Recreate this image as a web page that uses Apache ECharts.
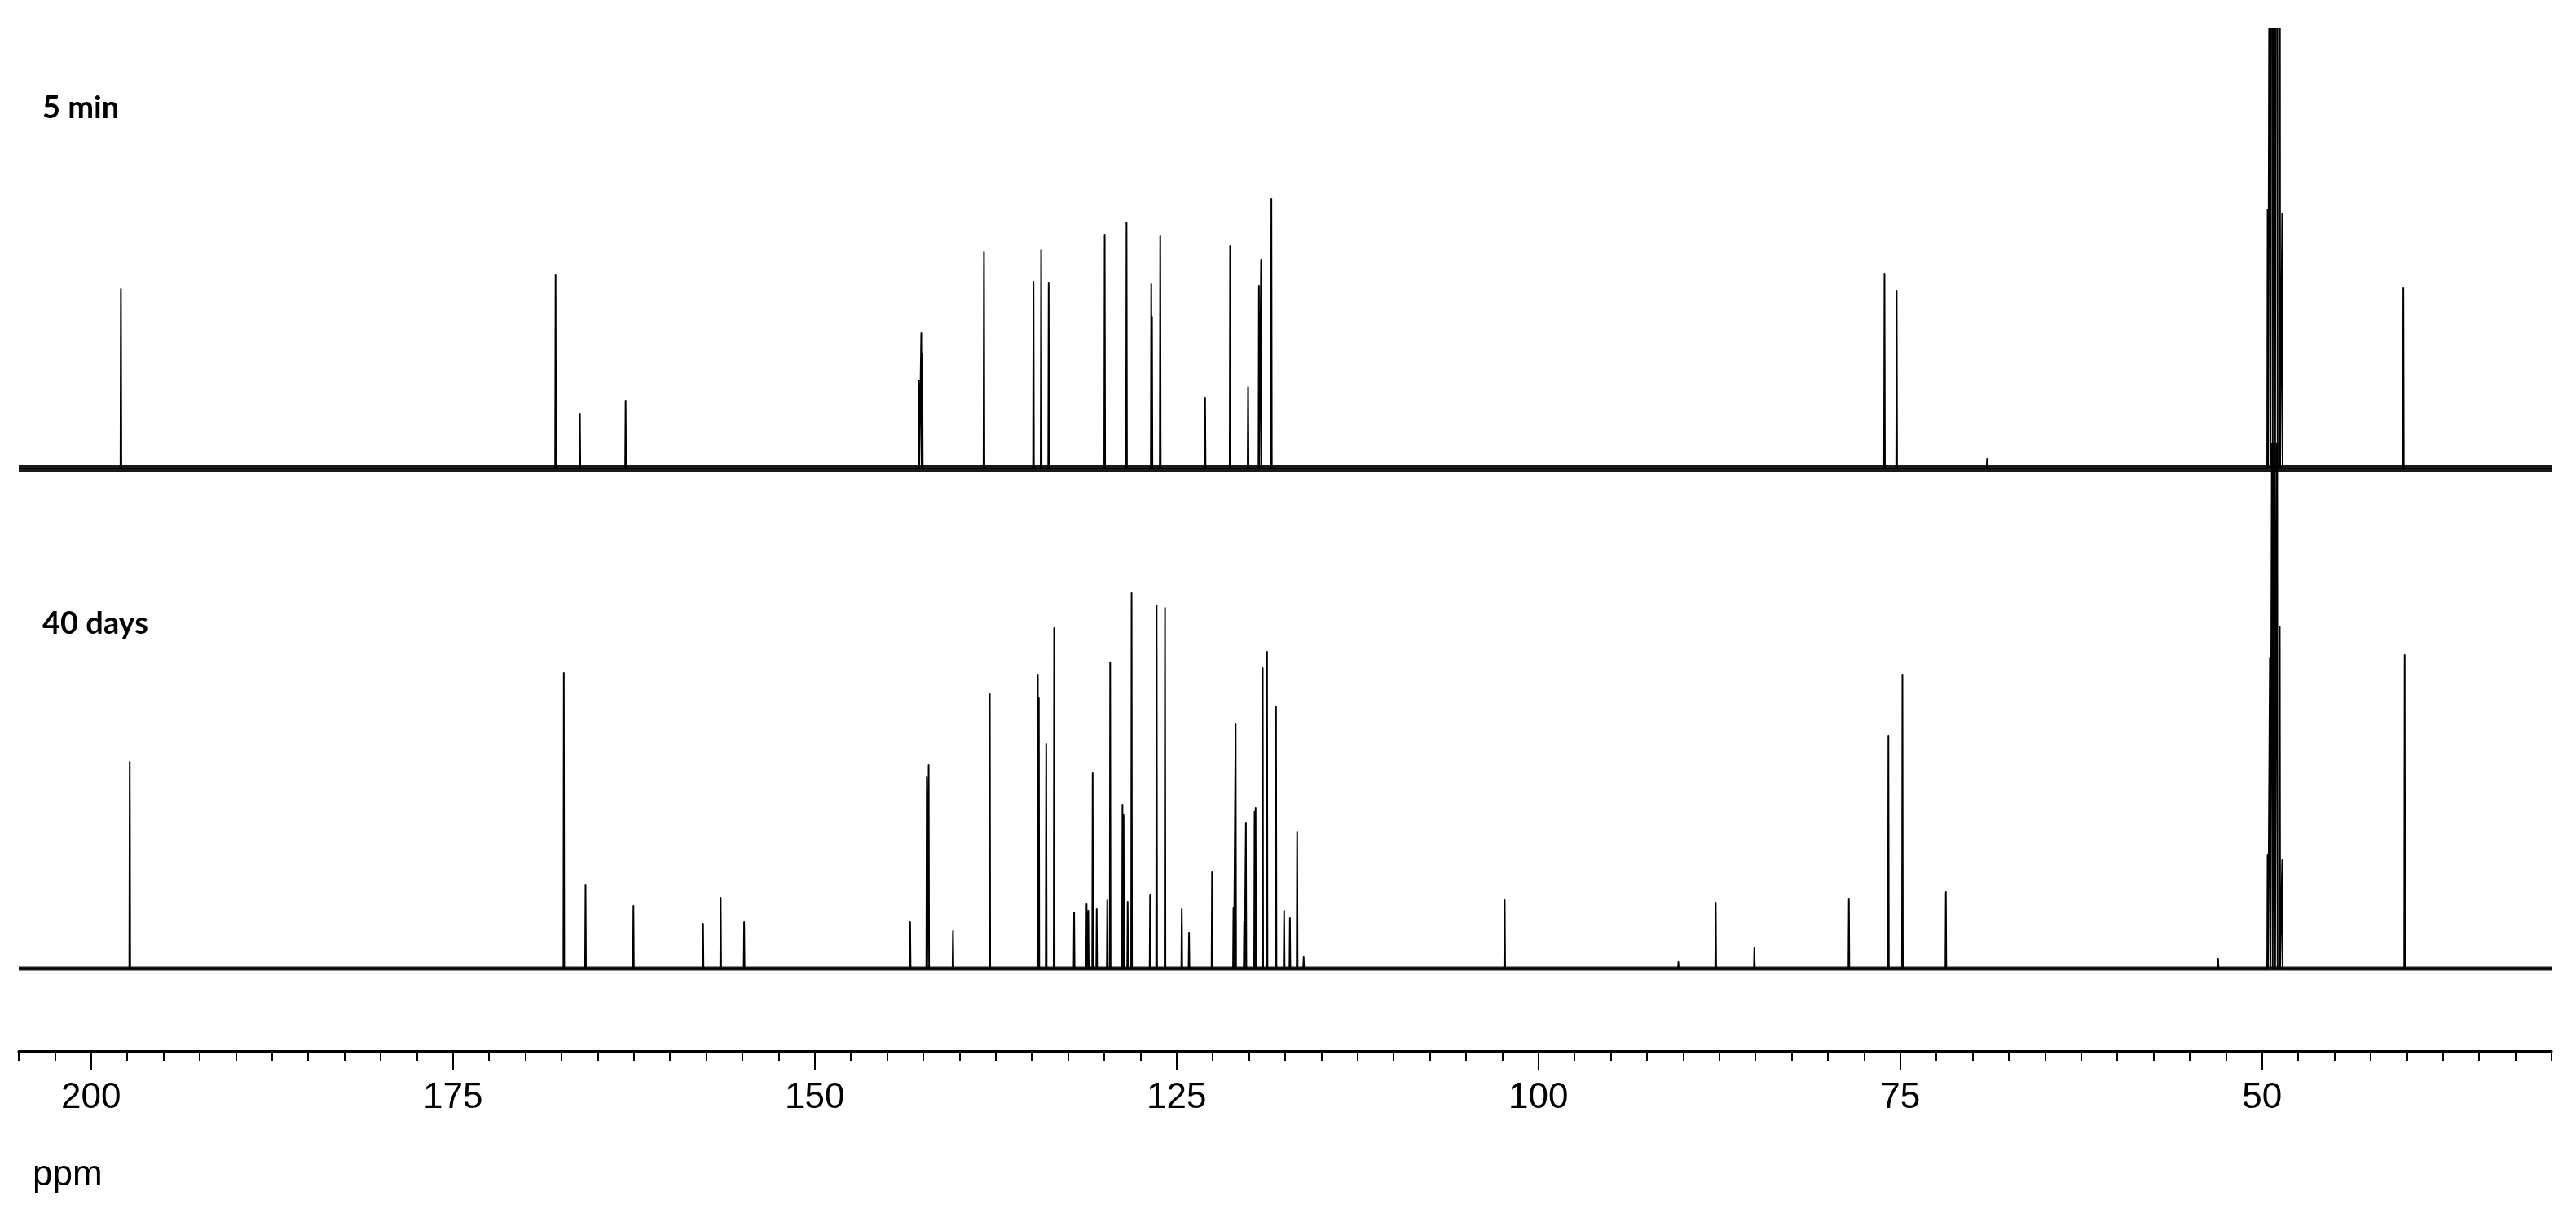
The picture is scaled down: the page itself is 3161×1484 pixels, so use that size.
<!DOCTYPE html>
<html>
<head>
<meta charset="utf-8">
<script src="https://cdn.jsdelivr.net/npm/echarts@6/dist/echarts.min.js"></script>
<style>
html,body{margin:0;padding:0;background:#fff;}
#chart{width:3161px;height:1484px;}
</style>
</head>
<body>
<div id="chart"></div>
<script>
// ---- data (ppm, peak height in arbitrary units) ----
const spectrumLabels = ['5 min', '40 days'];
const axisTitle = 'ppm';
const majorTickValues = [200, 175, 150, 125, 100, 75, 50];
const axisMinPpm = 30;
const axisMaxPpm = 205;
const minorTickStep = 2.5;

const topPeakPpm = [197.94, 167.91, 166.23, 163.07, 142.81, 142.64, 142.57, 138.31,
  134.89, 134.36, 133.84, 129.97, 128.46, 126.75, 126.70, 126.13, 123.03, 121.30,
  120.06, 119.31, 119.16, 118.45, 76.09, 75.25, 69.0, 40.24];
const topPeakHeight = [220, 238, 67, 83, 108, 166, 141, 266,
  229, 268, 228, 287, 302, 227, 186, 285, 87, 273,
  100, 224, 256, 331, 239, 218, 12, 222];

const bottomPeakPpm = [197.33, 167.34, 165.84, 162.53, 157.72, 156.50, 154.88,
  143.41, 142.26, 142.13, 140.45, 137.91, 134.59, 134.52, 134.01, 133.46, 132.08,
  131.22, 131.10, 130.80, 130.52, 129.79, 129.59, 128.74, 128.66, 128.38, 128.11,
  126.83, 126.38, 125.80, 124.64, 124.14, 122.55, 121.07, 120.92, 120.33, 120.21,
  119.61, 119.54, 119.05, 118.75, 118.13, 117.57, 117.17, 116.67, 116.22,
  102.33, 90.33, 87.75, 85.08, 78.55, 75.82, 74.85, 71.85, 53.04, 40.15];
const bottomPeakHeight = [254, 363, 103, 77, 55, 87, 57,
  57, 235, 250, 46, 337, 361, 332, 276, 418, 69,
  79, 71, 240, 73, 84, 376, 201, 189, 82, 461,
  91, 446, 443, 73, 44, 119, 75, 300, 58, 179,
  193, 197, 369, 389, 322, 71, 62, 168, 14,
  84, 8, 81, 25, 86, 286, 361, 94, 12, 385];

// solvent (CD3OD) septet lines
const solventPpm = [49.62, 49.46, 49.30, 49.13, 48.96, 48.78, 48.61];
const topSolventHeight = [318, 950, 1900, 2200, 1900, 950, 313];
const bottomSolventHeight = [140, 381, 800, 930, 800, 420, 133];

// baseline noise band thickness for each trace
const noiseBandWidth = [8, 5];

// ---- build line data (sticks) from the arrays ----
function buildSpectrum(ppms, heights, sPpm, sHeights) {
  const peaks = ppms.map((p, i) => [p, heights[i]])
    .concat(sPpm.map((p, i) => [p, sHeights[i]]));
  peaks.sort((a, b) => b[0] - a[0]);
  const half = 0.03;
  const pts = [[axisMaxPpm, 0]];
  peaks.forEach(function (pk) {
    pts.push([pk[0] + half, 0], [pk[0], pk[1]], [pk[0] - half, 0]);
  });
  pts.push([axisMinPpm, 0]);
  return pts;
}

const topData = buildSpectrum(topPeakPpm, topPeakHeight, solventPpm, topSolventHeight);
const bottomData = buildSpectrum(bottomPeakPpm, bottomPeakHeight, solventPpm, bottomSolventHeight);

const chart = echarts.init(document.getElementById('chart'), null, {renderer: 'canvas'});

const hiddenX = (gi) => ({
  gridIndex: gi, type: 'value', min: axisMinPpm, max: axisMaxPpm, inverse: true, show: false
});

const option = {
  animation: false,
  backgroundColor: '#ffffff',
  grid: [
    {left: 23, right: 30, top: 35, height: 600, containLabel: false},
    {left: 23, right: 30, top: 545, height: 704, containLabel: false},
    {left: 23, right: 30, top: 1190, height: 100, containLabel: false}
  ],
  xAxis: [
    hiddenX(0),
    hiddenX(1),
    {
      gridIndex: 2, type: 'value', min: axisMinPpm, max: axisMaxPpm, inverse: true,
      interval: minorTickStep, position: 'bottom',
      axisLine: {show: true, lineStyle: {color: '#000', width: 3}},
      axisTick: {show: true, length: 12, lineStyle: {color: '#000', width: 2}},
      axisLabel: {show: false},
      splitLine: {show: false}
    },
    {
      gridIndex: 2, type: 'value', min: axisMinPpm, max: axisMaxPpm, inverse: true,
      position: 'bottom',
      axisLine: {show: false},
      axisTick: {show: true, customValues: majorTickValues, length: 23, lineStyle: {color: '#000', width: 2}},
      axisLabel: {show: true, customValues: majorTickValues, fontSize: 44,
        fontFamily: 'Liberation Sans, Arial, sans-serif', color: '#000', margin: 36},
      splitLine: {show: false}
    }
  ],
  yAxis: [
    {gridIndex: 0, type: 'value', min: -60, max: 540, show: false},
    {gridIndex: 1, type: 'value', min: -60, max: 644, show: false},
    {gridIndex: 2, type: 'value', min: 0, max: 1, show: false}
  ],
  series: [
    {
      type: 'line', xAxisIndex: 0, yAxisIndex: 0, silent: true, symbol: 'none',
      data: [[axisMaxPpm, 0], [axisMinPpm, 0]],
      lineStyle: {color: '#1a1a1a', width: noiseBandWidth[0]}
    },
    {
      name: spectrumLabels[0], type: 'line', xAxisIndex: 0, yAxisIndex: 0, silent: true,
      symbol: 'none', data: topData, clip: true,
      lineStyle: {color: '#000', width: 2, join: 'round'}
    },
    {
      type: 'line', xAxisIndex: 1, yAxisIndex: 1, silent: true, symbol: 'none',
      data: [[axisMaxPpm, 0], [axisMinPpm, 0]],
      lineStyle: {color: '#1a1a1a', width: noiseBandWidth[1]}
    },
    {
      name: spectrumLabels[1], type: 'line', xAxisIndex: 1, yAxisIndex: 1, silent: true,
      symbol: 'none', data: bottomData, clip: true,
      lineStyle: {color: '#000', width: 2, join: 'round'}
    }
  ],
  graphic: [
    {type: 'text', x: 52, y: 133, silent: true,
      style: {text: spectrumLabels[0], fill: '#000', fontFamily: 'Lato', fontWeight: 'bold',
        fontSize: 38, align: 'left', verticalAlign: 'middle'}},
    {type: 'text', x: 52, y: 766, silent: true,
      style: {text: spectrumLabels[1], fill: '#000', fontFamily: 'Lato', fontWeight: 'bold',
        fontSize: 38, align: 'left', verticalAlign: 'middle'}},
    {type: 'text', x: 40, y: 1443, silent: true,
      style: {text: axisTitle, fill: '#000', fontFamily: 'Liberation Sans', fontSize: 44,
        align: 'left', verticalAlign: 'middle'}}
  ]
};
chart.setOption(option);
</script>
</body>
</html>
